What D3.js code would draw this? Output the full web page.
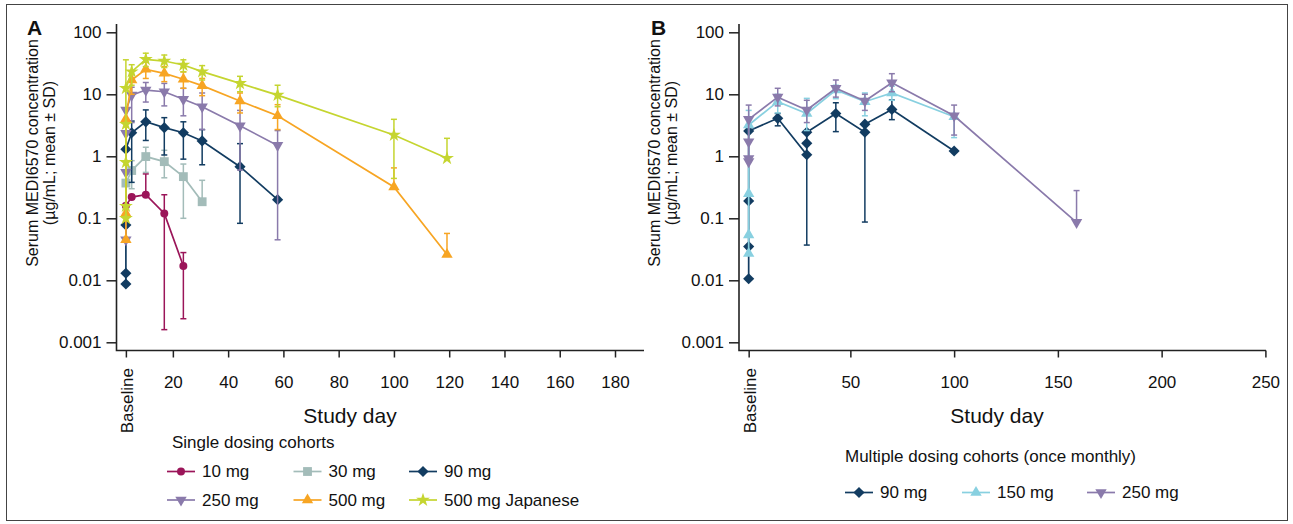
<!DOCTYPE html>
<html>
<head>
<meta charset="utf-8">
<script src="https://cdn.jsdelivr.net/npm/d3@7"></script>
<style>
body { margin: 0; background: #fff; }
text { font-family: "Liberation Sans", Arial, sans-serif; fill: #111; }
</style>
</head>
<body>
<script>
var width = 1293,
    height = 524;

// rows are [study day, mean, lower end of SD bar, upper end of SD bar]
var single10 = [[3, 0.16], [5.1, 0.22], [10.2, 0.24, null, 0.52], [16.9, 0.12, 0.0016, 0.24], [23.8, 0.017, 0.0024, 0.028]];
var single30 = [[3, 0.37], [5.1, 0.59, 0.3, 0.85], [10.2, 0.99, 0.55, 1.4], [16.9, 0.82, 0.45, 1.25], [23.8, 0.47, 0.1, 0.75], [30.6, 0.185, null, 0.41]];
var single90 = [[3, 0.0087], [3, 0.013], [3, 0.078], [3, 1.3], [5.1, 2.4, 0.38, 3.7], [10.2, 3.6, 1.8, 5.6], [16.9, 2.9, 1.05, 4.2], [23.8, 2.4, 0.9, 3.6], [30.6, 1.77, 0.73, 2.7], [44.3, 0.68, 0.083, 1.6], [57.9, 0.2]];
var single250 = [[3, 0.045], [3, 0.55], [3, 2.35], [3, 5.6], [5.1, 9.7, 3.5, 13], [10.2, 11.7, 7.5, 15.5], [16.9, 11, 6.5, 15], [23.8, 8.3, 4.5, 12.5], [30.6, 6.3, 2.7, 10.5], [44.3, 3.1, 0.6, 5.5], [57.9, 1.5, 0.045, 2.6]];
var single500 = [[3, 0.045], [3, 0.12], [3, 4], [5.1, 17, 10, 24], [10.2, 25.3, 18, 33], [16.9, 21.8, 16, 28], [23.8, 17.5, 12.5, 23], [30.6, 13.8, 9.5, 18], [44.3, 7.8, 5, 10.5], [57.9, 4.5, 2.7, 6.8], [100, 0.32, null, 0.65], [119.2, 0.026, null, 0.057]];
var single500jp = [[3, 0.1], [3, 0.157], [3, 0.8], [3, 3.3], [3, 12.5, null, 36], [5.1, 23.2, 14, 30], [10.2, 36.7, 28, 46], [16.9, 34.4, 27, 43], [23.8, 29.7, 23, 36], [30.6, 23.2, 17, 29], [44.3, 15, 11, 19.5], [57.9, 9.7, 6.3, 14], [100, 2.2, 0.44, 3.95], [119.2, 0.93, null, 1.95]];

var multi90 = [[1, 0.0106], [1, 0.035], [1, 0.19], [1, 2.56], [15, 4.1, 3.1, 4.9], [29, 1.06, 0.037, null], [29, 1.62], [29, 2.44], [43, 4.9, 2.5, 7.3], [57, 2.44, 0.087, null], [57, 3.3], [70, 5.7, 3.9, 8.1], [100, 1.22]];
var multi150 = [[1, 0.027], [1, 0.054], [1, 0.25], [1, 3.2, null, 5.5], [15, 7.6, 5, 10], [29, 4.9, 2.6, 8.6], [43, 11.7, 8.5, 14], [57, 7.6, 4.5, 10.5], [70, 10.5, 8, 13.5], [100, 4.35, 2.0, null]];
var multi250 = [[1, 0.82], [1, 0.92], [1, 1.72], [1, 3.95, null, 6.7], [15, 9, 6.5, 12.5], [29, 5.6, 3.5, 8], [43, 12.5, 9, 17], [57, 7.8, 5.5, 10], [70, 15.4, 11, 21.5], [100, 4.5, 2.2, 6.7], [159, 0.086, null, 0.28]];

var singleNames = ["10 mg", "30 mg", "90 mg", "250 mg", "500 mg", "500 mg Japanese"];
var multiNames = ["90 mg", "150 mg", "250 mg"];

var yTicks = [0.001, 0.01, 0.1, 1, 10, 100];
var yTickLabels = ["0.001", "0.01", "0.1", "1", "10", "100"];
var xTicksA = [20, 40, 60, 80, 100, 120, 140, 160, 180];
var xTicksB = [50, 100, 150, 200, 250];
var baselineDayA = 3, baselineDayB = 1;

var svg = d3.select("body").append("svg")
    .attr("width", width)
    .attr("height", height);

svg.append("rect")
    .attr("x", 6.5).attr("y", 4.5)
    .attr("width", 1281).attr("height", 516)
    .attr("fill", "none").attr("stroke", "#444").attr("stroke-width", 1);

var singleSeries = [
    {data: single10, color: "#9b1559", shape: "circle"},
    {data: single30, color: "#a3bcb9", shape: "square"},
    {data: single90, color: "#123c61", shape: "diamond"},
    {data: single250, color: "#8a7aab", shape: "down"},
    {data: single500, color: "#f7a523", shape: "up"},
    {data: single500jp, color: "#c5d530", shape: "star"}
];
var multiSeries = [
    {data: multi90, color: "#123c61", shape: "diamond"},
    {data: multi150, color: "#88d0e0", shape: "up"},
    {data: multi250, color: "#8a7aab", shape: "down"}
];

function addMarker(g, shape, color, cx, cy) {
    var type = d3.symbolCircle, size = 50, rot = 0;
    if (shape == "square") { type = d3.symbolSquare; size = 78; }
    if (shape == "diamond") { type = d3.symbolSquare; size = 62; rot = 45; }
    if (shape == "up") { type = d3.symbolTriangle; size = 56; }
    if (shape == "down") { type = d3.symbolTriangle; size = 56; rot = 180; }
    if (shape == "star") { type = d3.symbolStar; size = 60; }
    g.append("path")
        .attr("d", d3.symbol().type(type).size(size)())
        .attr("transform", "translate(" + cx + "," + cy + ") rotate(" + rot + ")")
        .attr("fill", color);
}

function drawPanel(p) {
    var x = d3.scaleLinear().domain(p.xDomain).range(p.xRange);
    var y = d3.scaleLog().domain([0.001, 100]).range([342.3, 32.3]);
    var g = svg.append("g");

    // series
    p.series.forEach(function (s) {
        var sg = g.append("g");
        s.data.forEach(function (d) {
            if (d[2] == null && d[3] == null) return;
            var lo = d[2] == null ? d[1] : d[2];
            var hi = d[3] == null ? d[1] : d[3];
            var px = x(d[0]);
            sg.append("line").attr("x1", px).attr("x2", px)
                .attr("y1", y(lo)).attr("y2", y(hi))
                .attr("stroke", s.color).attr("stroke-width", 1.5);
            [d[2], d[3]].forEach(function (v) {
                if (v == null) return;
                sg.append("line").attr("x1", px - 3).attr("x2", px + 3)
                    .attr("y1", y(v)).attr("y2", y(v))
                    .attr("stroke", s.color).attr("stroke-width", 1.5);
            });
        });
        sg.append("path")
            .datum(s.data)
            .attr("d", d3.line().x(function (d) { return x(d[0]); }).y(function (d) { return y(d[1]); }))
            .attr("fill", "none").attr("stroke", s.color).attr("stroke-width", 1.7);
        s.data.forEach(function (d) {
            addMarker(sg, s.shape, s.color, x(d[0]), y(d[1]));
        });
    });

    // y axis
    var yAxis = g.append("g")
        .attr("transform", "translate(" + p.axisX + ",0)")
        .call(d3.axisLeft(y).tickValues(yTicks)
            .tickFormat(function (d, i) { return yTickLabels[i]; })
            .tickSize(10).tickPadding(5).tickSizeOuter(0));
    yAxis.select(".domain").remove();
    yAxis.selectAll(".tick line").attr("stroke", "#222").attr("stroke-width", 1.5);
    yAxis.selectAll(".tick text").style("font-size", "17px").attr("fill", "#111");

    // x axis
    var xAxis = g.append("g")
        .attr("transform", "translate(0,350.5)")
        .call(d3.axisBottom(x).tickValues([p.baselineDay].concat(p.xTicks))
            .tickFormat(function (d) { return d == p.baselineDay ? "" : d; })
            .tickSize(7).tickPadding(18).tickSizeOuter(0));
    xAxis.select(".domain").remove();
    xAxis.selectAll(".tick line").attr("stroke", "#222").attr("stroke-width", 1.5);
    xAxis.selectAll(".tick text").style("font-size", "17px").attr("fill", "#111");

    g.append("text")
        .attr("transform", "translate(" + (x(p.baselineDay) + 7.5) + ",368) rotate(-90)")
        .attr("text-anchor", "end")
        .style("font-size", "17px")
        .text("Baseline");

    g.append("path")
        .attr("d", "M" + p.axisX + ",24V350.5H" + p.axisEnd)
        .attr("fill", "none").attr("stroke", "#222").attr("stroke-width", 1.6);

    // titles
    g.append("text")
        .attr("transform", "translate(" + (p.axisX - 79) + ",153) rotate(-90)")
        .attr("text-anchor", "middle").style("font-size", "16px")
        .text("Serum MEDI6570 concentration");
    g.append("text")
        .attr("transform", "translate(" + (p.axisX - 62) + ",153) rotate(-90)")
        .attr("text-anchor", "middle").style("font-size", "16px")
        .text("(\u00b5g/mL; mean \u00b1 SD)");
    g.append("text")
        .attr("x", p.titleX).attr("y", 423)
        .attr("text-anchor", "middle").style("font-size", "21px")
        .text("Study day");
    g.append("text")
        .attr("x", p.letterX).attr("y", 35)
        .style("font-size", "21px").style("font-weight", "bold")
        .text(p.letter);

    // legend
    g.append("text")
        .attr("x", p.legend.titleX).attr("y", p.legend.titleY)
        .style("font-size", "17px")
        .text(p.legend.title);
    p.series.forEach(function (s, i) {
        var col = i % 3, row = Math.floor(i / 3);
        var cx = p.legend.cols[col], cy = p.legend.rows[row];
        g.append("line").attr("x1", cx - 14).attr("x2", cx + 14)
            .attr("y1", cy).attr("y2", cy)
            .attr("stroke", s.color).attr("stroke-width", 1.7);
        addMarker(g, s.shape, s.color, cx, cy);
        g.append("text")
            .attr("x", cx + 21).attr("y", cy).attr("dy", "0.35em")
            .style("font-size", "17px")
            .text(p.names[i]);
    });
}

drawPanel({
    series: singleSeries, names: singleNames,
    xDomain: [0, 180], xRange: [117.6, 615], xTicks: xTicksA, baselineDay: baselineDayA,
    axisX: 116.5, axisEnd: 644, titleX: 350, letter: "A", letterX: 27,
    legend: {title: "Single dosing cohorts", titleX: 172, titleY: 448,
             cols: [181, 307.5, 423], rows: [471.5, 500]}
});

drawPanel({
    series: multiSeries, names: multiNames,
    xDomain: [0, 250], xRange: [746.6, 1265.4], xTicks: xTicksB, baselineDay: baselineDayB,
    axisX: 739, axisEnd: 1266, titleX: 997, letter: "B", letterX: 651,
    legend: {title: "Multiple dosing cohorts (once monthly)", titleX: 845, titleY: 462,
             cols: [859, 976, 1101], rows: [492.5]}
});
</script>
</body>
</html>
